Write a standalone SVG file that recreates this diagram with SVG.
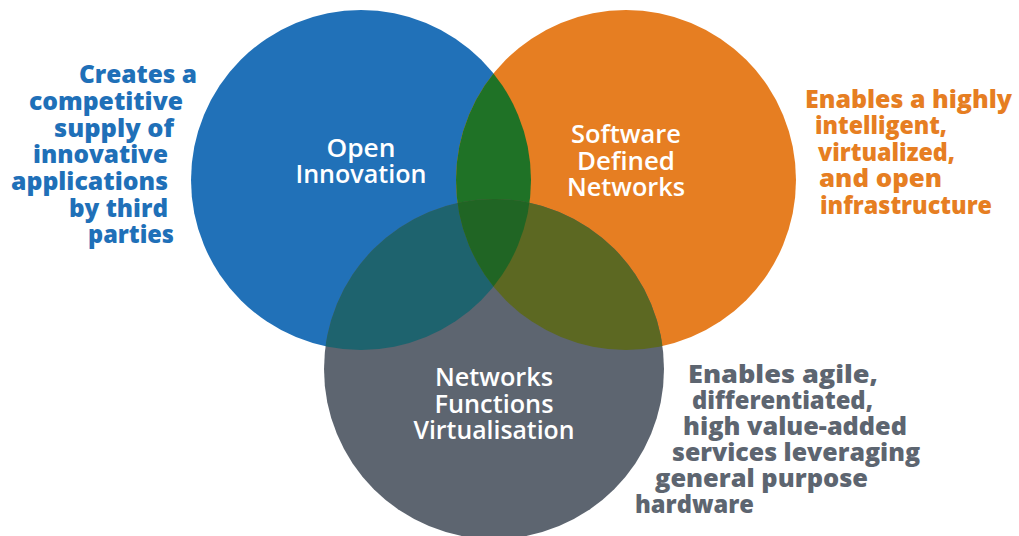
<svg xmlns="http://www.w3.org/2000/svg" width="1019" height="536" viewBox="0 0 1019 536">
  <style>
    .lbl { font-family: "Open Sans", "Liberation Sans", sans-serif; font-size: 25px; font-weight: 600; fill: #ffffff; text-anchor: middle; }
    .side { font-family: "Open Sans", "Liberation Sans", sans-serif; font-size: 24px; font-weight: 800; }
    .blue { fill: #1f70b8; }
    .orange { fill: #e67e22; }
    .gray { fill: #5d6570; }
  </style>
  <defs>
    <clipPath id="clipBlue"><circle cx="361" cy="180" r="170"/></clipPath>
    <clipPath id="clipOrange"><circle cx="626" cy="180" r="170"/></clipPath>
  </defs>
  <rect width="1019" height="536" fill="#ffffff"/>
  <g id="node-open-innovation">
    <circle cx="361" cy="180" r="170" fill="#2171b8"/>
  </g>
  <g id="node-sdn">
    <circle cx="626" cy="180" r="170" fill="#e67e22"/>
  </g>
  <g id="node-nfv">
    <circle cx="494" cy="369" r="170" fill="#5d6570"/>
  </g>
  <g id="overlaps">
    <circle cx="626" cy="180" r="170" fill="#1f7226" clip-path="url(#clipBlue)"/>
    <circle cx="494" cy="369" r="170" fill="#1e636e" clip-path="url(#clipBlue)"/>
    <circle cx="494" cy="369" r="170" fill="#5c6822" clip-path="url(#clipOrange)"/>
    <g clip-path="url(#clipOrange)">
      <circle cx="494" cy="369" r="170" fill="#206524" clip-path="url(#clipBlue)"/>
    </g>
  </g>
  <g id="labels">
    <text class="lbl" x="361" y="157" textLength="69" lengthAdjust="spacingAndGlyphs">Open</text>
    <text class="lbl" x="361" y="183" textLength="131" lengthAdjust="spacingAndGlyphs">Innovation</text>
    <text class="lbl" x="626" y="143" textLength="110" lengthAdjust="spacingAndGlyphs">Software</text>
    <text class="lbl" x="626" y="169.5" textLength="98" lengthAdjust="spacingAndGlyphs">Defined</text>
    <text class="lbl" x="626" y="196" textLength="118" lengthAdjust="spacingAndGlyphs">Networks</text>
    <text class="lbl" x="494" y="386" textLength="118" lengthAdjust="spacingAndGlyphs">Networks</text>
    <text class="lbl" x="494" y="412.5" textLength="119" lengthAdjust="spacingAndGlyphs">Functions</text>
    <text class="lbl" x="494" y="439" textLength="161" lengthAdjust="spacingAndGlyphs">Virtualisation</text>
  </g>
  <g id="text-open-innovation" class="side blue">
    <text x="79" y="83" textLength="118" lengthAdjust="spacingAndGlyphs">Creates a</text>
    <text x="29" y="110" textLength="154" lengthAdjust="spacingAndGlyphs">competitive</text>
    <text x="54" y="137" textLength="120" lengthAdjust="spacingAndGlyphs">supply of</text>
    <text x="33" y="163" textLength="135" lengthAdjust="spacingAndGlyphs">innovative</text>
    <text x="11" y="190" textLength="157" lengthAdjust="spacingAndGlyphs">applications</text>
    <text x="69" y="217" textLength="99" lengthAdjust="spacingAndGlyphs">by third</text>
    <text x="88" y="243" textLength="86" lengthAdjust="spacingAndGlyphs">parties</text>
  </g>
  <g id="text-sdn" class="side orange">
    <text x="805" y="108" textLength="207" lengthAdjust="spacingAndGlyphs">Enables a highly</text>
    <text x="815" y="134" textLength="132" lengthAdjust="spacingAndGlyphs">intelligent,</text>
    <text x="818" y="161" textLength="137" lengthAdjust="spacingAndGlyphs">virtualized,</text>
    <text x="819" y="187" textLength="123" lengthAdjust="spacingAndGlyphs">and open</text>
    <text x="820" y="214" textLength="172" lengthAdjust="spacingAndGlyphs">infrastructure</text>
  </g>
  <g id="text-nfv" class="side gray">
    <text x="688" y="383" textLength="190" lengthAdjust="spacingAndGlyphs">Enables agile,</text>
    <text x="692" y="409" textLength="181" lengthAdjust="spacingAndGlyphs">differentiated,</text>
    <text x="683" y="435" textLength="224" lengthAdjust="spacingAndGlyphs">high value-added</text>
    <text x="672" y="461" textLength="248" lengthAdjust="spacingAndGlyphs">services leveraging</text>
    <text x="655" y="487" textLength="213" lengthAdjust="spacingAndGlyphs">general purpose</text>
    <text x="635" y="513" textLength="119" lengthAdjust="spacingAndGlyphs">hardware</text>
  </g>
</svg>
